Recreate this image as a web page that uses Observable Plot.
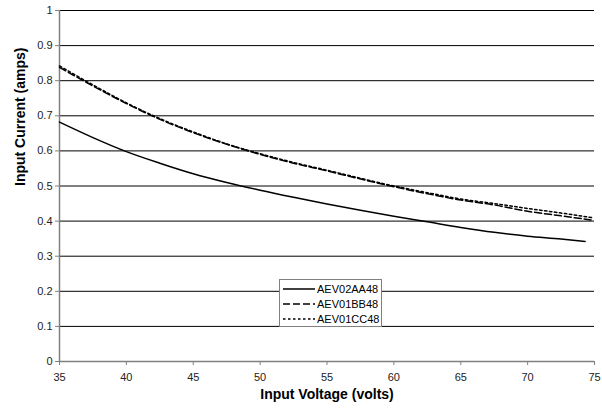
<!DOCTYPE html>
<html>
<head>
<meta charset="utf-8">
<script src="https://cdn.jsdelivr.net/npm/d3@7"></script>
<script src="https://cdn.jsdelivr.net/npm/@observablehq/plot@0.6"></script>
<style>
  html, body { margin: 0; padding: 0; background: #fff; }
  #wrap { position: relative; width: 602px; height: 415px; font-family: "Liberation Sans", Arial, sans-serif; }
  #legend { position: absolute; left: 279px; top: 279px; width: 103px; height: 48px; border: 1px solid #808080; background: #fff; box-sizing: border-box; font-size: 11px; }
  #legend .row { display: flex; align-items: center; height: 15px; margin-left: 3px; }
  #legend .row:first-child { margin-top: 1px; }
  #legend svg { margin-right: 2px; }
</style>
</head>
<body>
<div id="wrap"></div>
<script>
const voltsAA = [35, 37.5, 40, 42.5, 45, 47.5, 50, 52.5, 55, 57.5, 60, 62.5, 65, 67.5, 70, 72.5, 74.3];
const currentAA = [0.682, 0.638, 0.598, 0.565, 0.535, 0.510, 0.488, 0.468, 0.449, 0.431, 0.414, 0.398, 0.382, 0.368, 0.357, 0.349, 0.342];
const voltsBB = [35, 37.5, 40, 42.5, 45, 47.5, 50, 52.5, 55, 57.5, 60, 62.5, 65, 67.5, 70, 72.5, 74.8];
const currentBB = [0.838, 0.785, 0.735, 0.690, 0.652, 0.619, 0.590, 0.565, 0.543, 0.520, 0.498, 0.478, 0.460, 0.446, 0.428, 0.415, 0.403];
const voltsCC = [35, 37.5, 40, 42.5, 45, 47.5, 50, 52.5, 55, 57.5, 60, 62.5, 65, 67.5, 70, 72.5, 74.8];
const currentCC = [0.842, 0.788, 0.737, 0.692, 0.654, 0.620, 0.592, 0.567, 0.545, 0.522, 0.500, 0.481, 0.463, 0.450, 0.436, 0.423, 0.410];
const seriesNames = ["AEV02AA48", "AEV01BB48", "AEV01CC48"];
const dashes = [null, "7,3", "2.5,2.5"];
const xTicks = [35, 40, 45, 50, 55, 60, 65, 70, 75];
const yTicks = [0, 0.1, 0.2, 0.3, 0.4, 0.5, 0.6, 0.7, 0.8, 0.9, 1];

const series = [
  voltsAA.map((v, i) => ({v, c: currentAA[i]})),
  voltsBB.map((v, i) => ({v, c: currentBB[i]})),
  voltsCC.map((v, i) => ({v, c: currentCC[i]}))
];

const font = '"Liberation Sans", Arial, sans-serif';

const chart = Plot.plot({
  width: 602,
  height: 415,
  marginLeft: 59,
  marginRight: 8,
  marginTop: 10,
  marginBottom: 54,
  style: { fontFamily: font, fontSize: "11px", color: "#000", background: "#fff" },
  x: { domain: [35, 75], ticks: xTicks, tickFormat: d => String(d) },
  y: { domain: [0, 1], ticks: yTicks, tickFormat: d => String(d) },
  marks: [
    Plot.gridY(yTicks.filter(d => d > 0), { stroke: "#000", strokeOpacity: 1, strokeWidth: 1 }),
    Plot.ruleX([35], { stroke: "#808080", strokeWidth: 1.5 }),
    Plot.ruleY([0], { stroke: "#808080", strokeWidth: 1.5 }),
    Plot.axisX({ ticks: xTicks, tickSize: 4, tickPadding: 8, stroke: "#808080", fill: "#222", label: null }),
    Plot.axisY({ ticks: yTicks, tickSize: 4, tickPadding: 3, stroke: "#808080", fill: "#222", label: null, tickFormat: d => String(d) }),
    ...series.map((s, i) => Plot.line(s, {
      x: "v", y: "c", curve: "monotone-x", stroke: "#000",
      strokeWidth: 1.5, strokeDasharray: dashes[i]
    })),
    Plot.text(["Input Voltage (volts)"], { frameAnchor: "bottom", dy: 37, fontSize: 14, fontWeight: "bold", fill: "#000" }),
    Plot.text(["Input Current (amps)"], { frameAnchor: "left", dx: -39, rotate: -90, fontSize: 14, fontWeight: "bold", fill: "#000" })
  ]
});

const wrap = document.getElementById("wrap");
wrap.appendChild(chart);

const legend = document.createElement("div");
legend.id = "legend";
seriesNames.forEach((name, i) => {
  const row = document.createElement("div");
  row.className = "row";
  row.innerHTML = `<svg width="32" height="6"><line x1="0" y1="3" x2="32" y2="3" stroke="#000" stroke-width="1.5" ${dashes[i] ? `stroke-dasharray="${dashes[i]}"` : ""}/></svg><span>${name}</span>`;
  legend.appendChild(row);
});
wrap.appendChild(legend);
</script>
</body>
</html>
